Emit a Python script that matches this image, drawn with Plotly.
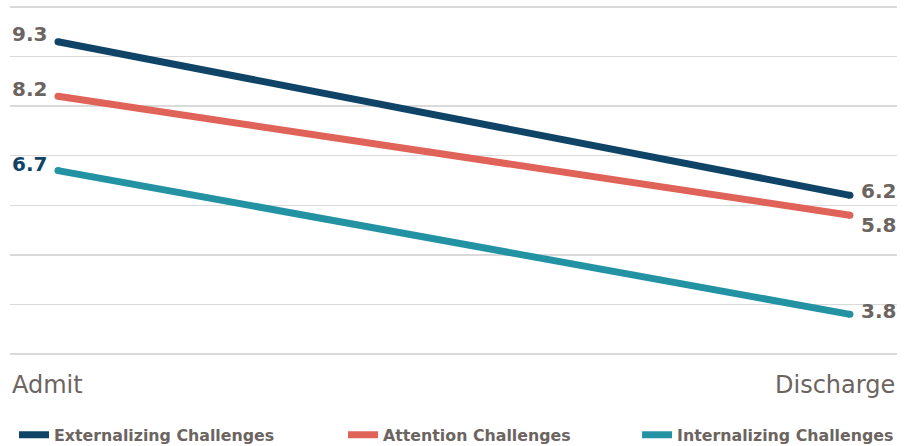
import plotly.graph_objects as go

# ---- data ----
time_points = ["Admit", "Discharge"]
series_names = ["Externalizing Challenges", "Attention Challenges", "Internalizing Challenges"]
externalizing = [9.3, 6.2]
attention = [8.2, 5.8]
internalizing = [6.7, 3.8]
y_ticks = [3, 4, 5, 6, 7, 8, 9, 10]

# ---- style ----
colors = ["#0f4466", "#e0635a", "#2393a3"]
gray_text = "#6c645f"
label_font = "DejaVu Sans"
values = [externalizing, attention, internalizing]
left_label_colors = [gray_text, gray_text, "#0f4466"]
left_yshift = [8, 7, 7]
right_yshift = [4, -10, 3]
legend_x = [0.0153, 0.3753, 0.697]

x_pos = list(range(len(time_points)))

fig = go.Figure()
for i, (name, vals) in enumerate(zip(series_names, values)):
    fig.add_trace(go.Scatter(
        x=x_pos, y=vals, mode="lines", name=name,
        line=dict(color=colors[i], width=7),
        legend="legend" if i == 0 else f"legend{i+1}",
        hoverinfo="skip",
    ))
    # round caps
    fig.add_trace(go.Scatter(
        x=x_pos, y=vals, mode="markers", showlegend=False,
        marker=dict(color=colors[i], size=7, line=dict(width=0)),
        hoverinfo="skip",
    ))
    fig.add_annotation(x=x_pos[0], y=vals[0], text=f"<b>{vals[0]}</b>",
                       xanchor="right", yanchor="middle", xshift=-9, yshift=left_yshift[i],
                       showarrow=False, font=dict(family=label_font, size=20, color=left_label_colors[i]))
    fig.add_annotation(x=x_pos[1], y=vals[1], text=f"<b>{vals[1]}</b>",
                       xanchor="left", yanchor="middle", xshift=9, yshift=right_yshift[i],
                       showarrow=False, font=dict(family=label_font, size=20, color=gray_text))

# category labels
fig.add_annotation(x=0, y=-0.0826, xref="paper", yref="paper", text=time_points[0],
                   xanchor="left", yanchor="middle", showarrow=False,
                   font=dict(family=label_font, size=24, color=gray_text))
fig.add_annotation(x=1, y=-0.0826, xref="paper", yref="paper", text=time_points[1],
                   xanchor="right", yanchor="middle", showarrow=False,
                   font=dict(family=label_font, size=24, color=gray_text))

legend_common = dict(orientation="h", xref="container", yref="container",
                     yanchor="middle", y=0.0247, xanchor="left",
                     bgcolor="rgba(0,0,0,0)", borderwidth=0,
                     font=dict(family=label_font, size=15.8, color=gray_text, weight="bold"))
fig.update_layout(
    width=914, height=446,
    margin=dict(l=10, r=17, t=5, b=90),
    paper_bgcolor="white", plot_bgcolor="white",
    xaxis=dict(range=[-0.0606, 1.0594], showgrid=False, zeroline=False,
               showticklabels=False, fixedrange=True),
    yaxis=dict(range=[2.96, 10.04], tickvals=y_ticks, showgrid=True,
               gridcolor="#dadada", gridwidth=1.5, zeroline=False,
               showticklabels=False, fixedrange=True),
    legend=dict(x=legend_x[0], **legend_common),
    legend2=dict(x=legend_x[1], **legend_common),
    legend3=dict(x=legend_x[2], **legend_common),
    showlegend=True,
)

fig.write_html(
    "out.html",
    config={"displayModeBar": False, "staticPlot": True},
    post_script="document.documentElement.style.margin='0';document.body.style.margin='0';"
                "document.documentElement.style.overflow='hidden';document.body.style.overflow='hidden';",
)
